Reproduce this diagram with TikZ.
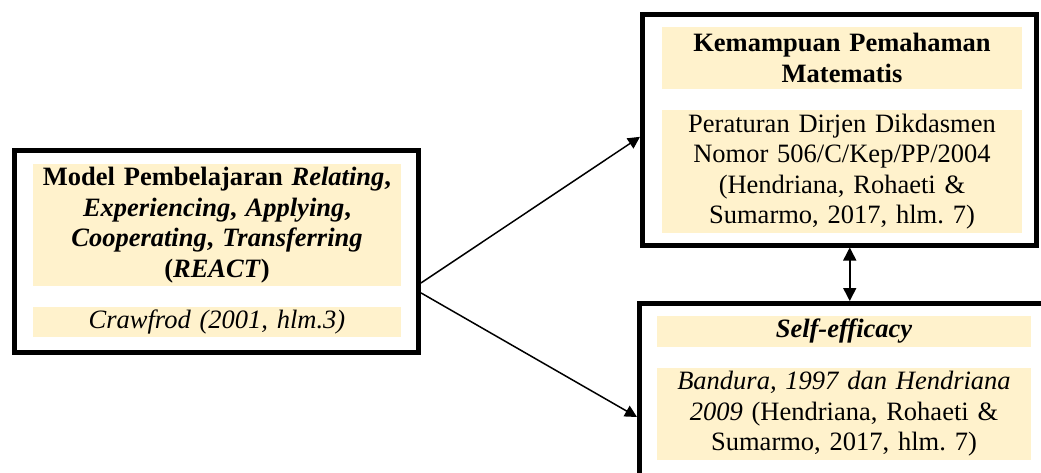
\documentclass[tikz,border=0pt]{standalone}
\usepackage{fontspec}
\setmainfont{Liberation Serif}
\usetikzlibrary{arrows.meta,calc}
\definecolor{boxfill}{HTML}{FFF2CC}
\frenchspacing
\begin{document}
\begin{tikzpicture}[x=1pt,y=-1pt,
  outerbox/.style={draw,line width=5pt,inner sep=0pt,rectangle},
  fillbox/.style={fill=boxfill,inner sep=0pt,align=center,font=\fontsize{26.5}{30.5}\selectfont},
  conn/.style={line width=1.5pt,-{Triangle[length=12pt,width=12pt]}},
  dconn/.style={line width=1.5pt,{Triangle[length=13pt,width=13pt]}-{Triangle[length=13pt,width=13pt]}},
]
\useasboundingbox (0,0) rectangle (1041,472);
\clip (0,0) rectangle (1041,472);
\fill[white] (0,0) rectangle (1041,472);

% left box
\node[outerbox,minimum width=404pt,minimum height=202pt] (L) at (216.5,251.5) {};
\node[fillbox,text width=368pt,minimum height=122pt] (L1) at (217,225)
  {\textbf{Model Pembelajaran \textit{Relating},}\\
   \textbf{\textit{Experiencing}, \textit{Applying},}\\
   \textbf{\textit{Cooperating}, \textit{Transferring}}\\
   \textbf{(\textit{REACT})}};
\node[fillbox,text width=368pt,minimum height=30pt] (L2) at (217,322)
  {\textit{Crawfrod (2001, hlm.3)}};

% top right box
\node[outerbox,minimum width=394pt,minimum height=230.5pt] (T) at (839.5,129.75) {};
\node[fillbox,text width=360pt,minimum height=62pt] (T1) at (842,58)
  {\textbf{Kemampuan Pemahaman}\\ \textbf{Matematis}};
\node[fillbox,text width=360pt,minimum height=123pt] (T2) at (842,171.5)
  {Peraturan Dirjen Dikdasmen\\ Nomor 506/C/Kep/PP/2004\\ (Hendriana, Rohaeti \&\\ Sumarmo, 2017, hlm. 7)};

% bottom right box (runs off the picture)
\node[outerbox,minimum width=420.5pt,minimum height=196.5pt] (B) at (849.75,401.75) {};
\node[fillbox,text width=374pt,minimum height=31pt] (B1) at (844,331.5)
  {\textbf{\textit{Self-efficacy}}};
\node[fillbox,text width=374pt,minimum height=92pt] (B2) at (844,414)
  {\textit{Bandura, 1997 dan Hendriana}\\ \textit{2009} (Hendriana, Rohaeti \&\\ Sumarmo, 2017, hlm. 7)};

% connectors
\coordinate (s1) at ($(L.north east)!0.652!(L.south east)$);
\coordinate (s2) at ($(L.north east)!0.70!(L.south east)$);
\coordinate (e1) at ($(T.north west)!0.53!(T.south west)$);
\coordinate (e2) at ($(B.north west)+(0,116)$);
\draw[conn] (s1) -- (e1);
\draw[conn] (s2) -- (e2);
\draw[dconn] (B.north |- T.south) -- (B.north);
\end{tikzpicture}
\end{document}
